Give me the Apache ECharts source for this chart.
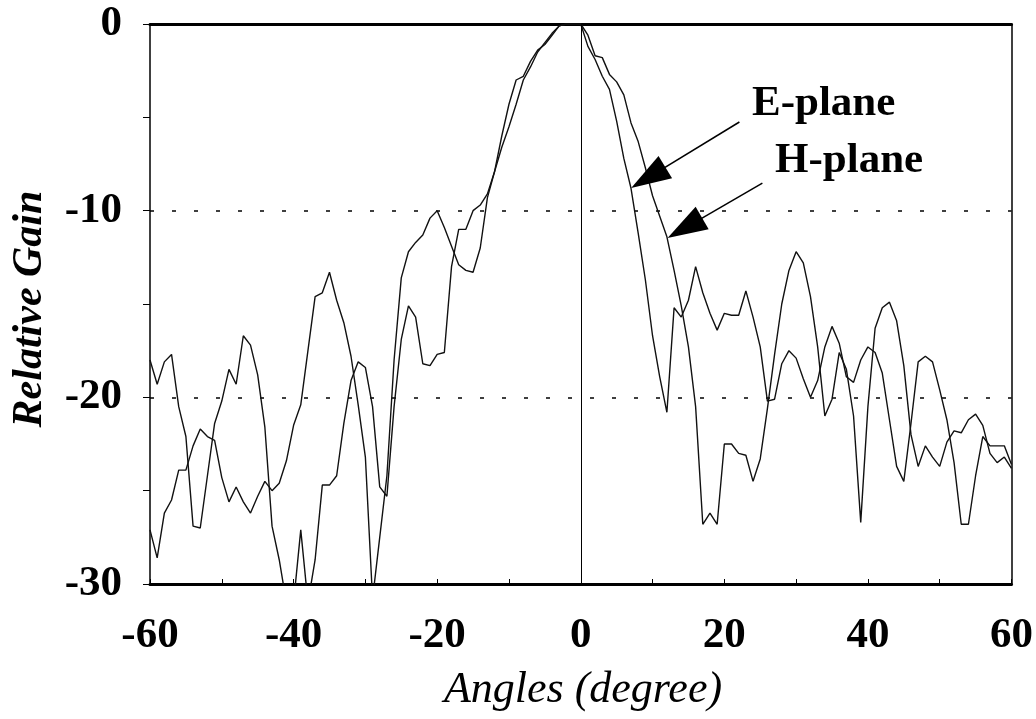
<!DOCTYPE html>
<html>
<head>
<meta charset="utf-8">
<script src="https://cdn.jsdelivr.net/npm/echarts@6/dist/echarts.min.js"></script>
<style>
  html, body { margin: 0; padding: 0; background: #fff; }
  #chart { width: 1036px; height: 719px; }
</style>
</head>
<body>
<div id="chart"></div>
<script>
// ---- data ----
const angles = [-60,-59,-58,-57,-56,-55,-54,-53,-52,-51,-50,-49,-48,-47,-46,-45,-44,-43,-42,-41,
  -40,-39,-38,-37,-36,-35,-34,-33,-32,-31,-30,-29,-28,-27,-26,-25,-24,-23,-22,-21,
  -20,-19,-18,-17,-16,-15,-14,-13,-12,-11,-10,-9,-8,-7,-6,-5,-4,-3,-2,-1,
  0,1,2,3,4,5,6,7,8,9,10,11,12,13,14,15,16,17,18,19,
  20,21,22,23,24,25,26,27,28,29,30,31,32,33,34,35,36,37,38,39,
  40,41,42,43,44,45,46,47,48,49,50,51,52,53,54,55,56,57,58,59,60];

const ePlane = [-18.0,-19.3,-18.1,-17.7,-20.5,-22.1,-26.9,-27.0,-24.2,-21.4,
  -20.2,-18.5,-19.3,-16.7,-17.2,-18.8,-21.6,-26.9,-28.7,-31.0,
  -31.0,-27.1,-31.0,-28.7,-24.7,-24.7,-24.2,-21.4,-19.1,-18.1,
  -18.4,-20.5,-24.8,-25.3,-20.5,-16.9,-15.1,-15.7,-18.2,-18.3,
  -17.7,-17.6,-13.0,-11.0,-11.0,-10.0,-9.7,-9.1,-7.9,-6.0,
  -4.3,-3.0,-2.8,-2.0,-1.4,-1.1,-0.6,-0.1,0,0,
  0,-1.2,-1.9,-2.8,-3.5,-5.2,-7.2,-8.8,-11.2,-13.7,
  -16.7,-18.9,-20.8,-15.2,-15.7,-14.8,-13.0,-14.4,-15.5,-16.4,
  -15.5,-15.6,-15.6,-14.3,-15.7,-17.3,-20.2,-20.1,-18.2,-17.5,
  -17.9,-19.0,-20.0,-19.1,-17.3,-16.2,-17.1,-18.9,-19.2,-18.0,
  -17.3,-17.6,-18.7,-21.2,-23.7,-24.5,-21.4,-18.1,-17.8,-18.1,
  -19.6,-21.2,-23.5,-26.8,-26.8,-24.2,-22.1,-22.6,-22.6,-22.6,-23.6];

const hPlane = [-27.1,-28.6,-26.2,-25.5,-23.9,-23.9,-22.6,-21.7,-22.1,-22.3,
  -24.3,-25.6,-24.8,-25.6,-26.2,-25.3,-24.5,-25.0,-24.6,-23.4,
  -21.5,-20.4,-17.5,-14.6,-14.4,-13.3,-14.8,-16.0,-17.8,-20.4,
  -23.2,-30.8,-27.5,-24.2,-18.0,-13.6,-12.2,-11.7,-11.3,-10.4,
  -10.0,-10.9,-11.9,-12.9,-13.2,-13.3,-12.0,-9.3,-7.9,-6.6,
  -5.5,-4.3,-3.0,-2.3,-1.5,-1.0,-0.5,-0.1,0,0,
  0,-0.6,-1.7,-1.8,-2.7,-3.1,-3.8,-5.3,-6.3,-7.7,
  -9.2,-10.3,-11.4,-13.2,-15.1,-17.3,-20.5,-26.8,-26.2,-26.8,
  -22.5,-22.5,-23.0,-23.1,-24.5,-23.3,-20.6,-17.7,-15.0,-13.2,
  -12.2,-12.8,-14.6,-17.3,-21.0,-20.1,-17.6,-18.5,-21.0,-26.7,
  -20.5,-16.3,-15.2,-14.9,-15.9,-18.3,-22.0,-23.7,-22.6,-23.2,
  -23.7,-22.4,-21.8,-21.9,-21.2,-20.9,-21.5,-23.0,-23.5,-23.2,-23.8];

const xTicks = [-60, -40, -20, 0, 20, 40, 60];
const yTicks = [-30, -20, -10, 0];

// annotation arrows (data units): tail -> head
const arrowE = [[22.1, -5.25], [9.4, -8.23]];
const arrowH = [[25.3, -8.52], [14.5, -10.93]];

// ---- chart ----
const FONT = '"Liberation Serif", "Times New Roman", serif';
const chart = echarts.init(document.getElementById('chart'), null, { renderer: 'canvas' });

function pairs(ys) { return angles.map((a, i) => [a, ys[i]]); }

const arrowStyle = { color: '#000', width: 1.5, type: 'solid' };
function arrow(a) {
  return [
    { coord: a[0], symbol: 'none', lineStyle: arrowStyle },
    { coord: a[1], symbol: 'triangle', symbolSize: [26, 40] }
  ];
}

chart.setOption({
  backgroundColor: '#fff',
  animation: false,
  grid: { left: 150, right: 21, top: 24, bottom: 135, containLabel: false },
  xAxis: [{
    type: 'value', min: xTicks[0], max: xTicks[xTicks.length - 1], interval: 20,
    position: 'bottom',
    axisLine: { onZero: false, lineStyle: { color: '#000', width: 3 } },
    axisTick: { show: true, inside: true, length: 5, lineStyle: { color: '#000', width: 1 } },
    minorTick: { show: true, splitNumber: 2, length: 5, lineStyle: { color: '#000', width: 1 } },
    splitLine: { show: false },
    axisLabel: { color: '#000', fontFamily: FONT, fontWeight: 'bold', fontSize: 43, margin: 30 }
  }, {
    type: 'value', min: -60, max: 60, position: 'top',
    axisLine: { onZero: false, lineStyle: { color: '#000', width: 3 } },
    axisTick: { show: false }, axisLabel: { show: false }, splitLine: { show: false }
  }],
  yAxis: [{
    type: 'value', min: yTicks[0], max: yTicks[yTicks.length - 1], interval: 10,
    position: 'left',
    axisLine: { onZero: false, lineStyle: { color: '#000', width: 1.5 } },
    axisTick: { show: true, inside: false, length: 7, lineStyle: { color: '#000', width: 1 } },
    minorTick: { show: true, splitNumber: 2, length: 7, lineStyle: { color: '#000', width: 1 } },
    splitLine: { show: true, lineStyle: { color: '#000', width: 1.5, type: [4, 18] } },
    axisLabel: { color: '#000', fontFamily: FONT, fontWeight: 'bold', fontSize: 43, margin: 28 }
  }, {
    type: 'value', min: -30, max: 0, position: 'right',
    axisLine: { show: true, onZero: false, lineStyle: { color: '#000', width: 1.5 } },
    axisTick: { show: false }, axisLabel: { show: false }, splitLine: { show: false }
  }],
  series: [{
    name: 'E-plane', type: 'line', data: pairs(ePlane),
    xAxisIndex: 0, yAxisIndex: 0,
    showSymbol: false, symbol: 'none', clip: true,
    lineStyle: { color: '#111', width: 1.4 },
    markLine: {
      silent: true, animation: false,
      label: { show: false },
      itemStyle: { color: '#000' },
      lineStyle: { color: '#000', width: 1, type: 'solid' },
      data: [
        [{ coord: [0, -30], symbol: 'none' }, { coord: [0, 0], symbol: 'none' }],
        arrow(arrowE)
      ]
    }
  }, {
    name: 'H-plane', type: 'line', data: pairs(hPlane),
    xAxisIndex: 0, yAxisIndex: 0,
    showSymbol: false, symbol: 'none', clip: true,
    lineStyle: { color: '#111', width: 1.4 },
    markLine: {
      silent: true, animation: false,
      label: { show: false },
      itemStyle: { color: '#000' },
      lineStyle: { color: '#000', width: 1.5, type: 'solid' },
      data: [ arrow(arrowH) ]
    }
  }],
  graphic: [
    { type: 'text', x: 752, y: 104,
      style: { text: 'E-plane', font: 'bold 43px ' + FONT, fill: '#000', align: 'left', verticalAlign: 'middle' } },
    { type: 'text', x: 775, y: 161,
      style: { text: 'H-plane', font: 'bold 43px ' + FONT, fill: '#000', align: 'left', verticalAlign: 'middle' } },
    { type: 'text', x: 583, y: 690,
      style: { text: 'Angles (degree)', font: 'italic 44px ' + FONT, fill: '#000', align: 'center', verticalAlign: 'middle' } },
    { type: 'text', x: 30, y: 309, rotation: Math.PI / 2,
      style: { text: 'Relative Gain', font: 'italic bold 42px ' + FONT, fill: '#000', align: 'center', verticalAlign: 'middle' } }
  ]
});
</script>
</body>
</html>
